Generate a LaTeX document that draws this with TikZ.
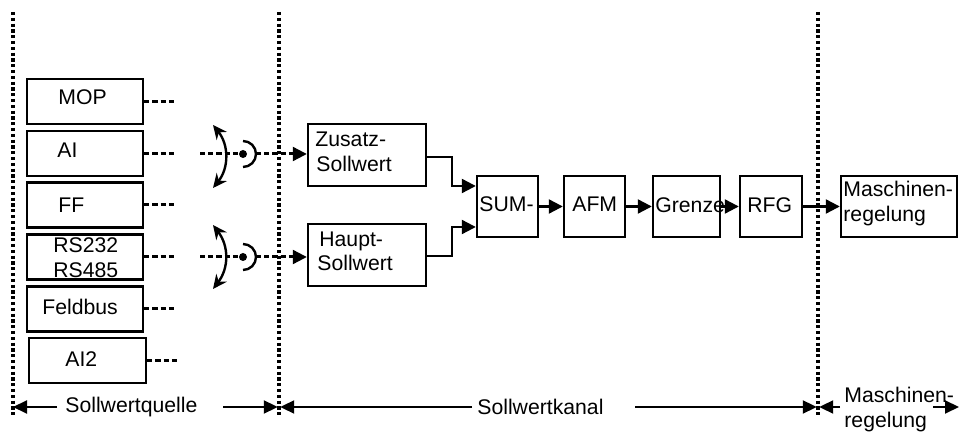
\documentclass[tikz,border=0pt]{standalone}
\usepackage{fontspec}
\setmainfont{Liberation Sans}
\usetikzlibrary{arrows.meta}
\begin{document}
\begin{tikzpicture}[x=0.5pt,y=-0.5pt,
  blk/.style={draw,line width=1.2pt,inner sep=0pt,minimum height=#1},
  blk/.default=22.5pt,
  txt/.style={anchor=base west,inner sep=0pt,font=\fontsize{10.6pt}{12pt}\selectfont},
  vdots/.style={line width=1.6pt,dash pattern=on 1.6pt off 1.3pt},
  hdash/.style={line width=1.5pt,dash pattern=on 2.6pt off 1.5pt},
  con/.style={line width=1.1pt,-{Triangle[length=7pt,width=7pt]}},
  dimarr/.style={line width=1pt,-{Triangle[length=7pt,width=6.5pt]}},
  sw/.style={line width=1.2pt,{Stealth[length=7pt,width=6.5pt]}-{Stealth[length=7pt,width=6.5pt]}}]
\useasboundingbox (0,0) rectangle (960,432);

% vertical dotted separators
\coordinate (s1t) at (13,12);  \coordinate (s1b) at (13,416);
\coordinate (s2t) at (279,12); \coordinate (s2b) at (279,416);
\coordinate (s3t) at (818,12); \coordinate (s3b) at (818,416);
\draw[vdots] (s1t) -- (s1b);
\draw[vdots] (s2t) -- (s2b);
\draw[vdots] (s3t) -- (s3b);

% source boxes
\node[blk,minimum width=58pt] (mop) at (85,101.5) {};
\node[blk,minimum width=58pt] (ai)  at (85,153.5) {};
\node[blk,minimum width=58pt] (ff)  at (85,205) {};
\node[blk,minimum width=58pt] (rs)  at (85,257) {};
\node[blk,minimum width=58pt] (fb)  at (85,309) {};
\node[blk,minimum width=58.5pt] (ai2) at (87.5,360.5) {};
\node[txt] (tmop) at (58,105) {MOP};
\node[txt] (tai)  at (57,158) {AI};
\node[txt] (tff)  at (58,213) {FF};
\node[txt] (trs1) at (53,253) {RS232};
\node[txt] (trs2) at (53,278) {RS485};
\node[txt] (tfb)  at (42,315) {Feldbus};
\node[txt] (tai2) at (65,367) {AI2};

% dashed stubs
\coordinate (emop) at (177,101.5);
\coordinate (eai)  at (177,153.5);
\coordinate (eff)  at (177,205);
\coordinate (ers)  at (177,257);
\coordinate (efb)  at (177,309);
\coordinate (eai2) at (179,360.5);
\draw[hdash] (mop.east) -- (emop);
\draw[hdash] (ai.east) -- (eai);
\draw[hdash] (ff.east) -- (eff);
\draw[hdash] (rs.east) -- (ers);
\draw[hdash] (fb.east) -- (efb);
\draw[hdash] (ai2.east) -- (eai2);

% main blocks
\node[blk=31pt,minimum width=59pt] (zus) at (367,155) {};
\node[blk=31pt,minimum width=59pt] (hau) at (367,255) {};
\node[txt] (tzus1) at (315,147) {Zusatz-};
\node[txt] (tzus2) at (316,172) {Sollwert};
\node[txt] (thau1) at (319,247) {Haupt-};
\node[txt] (thau2) at (317,271) {Sollwert};

\node[blk=30.5pt,minimum width=30.5pt] (sum) at (507.5,206.5) {};
\node[blk=30.5pt,minimum width=30.5pt] (afm) at (594.5,206.5) {};
\node[blk=30.5pt,minimum width=33.5pt] (gre) at (686.5,206.5) {};
\node[blk=30.5pt,minimum width=31pt] (rfg) at (771,206.5) {};
\node[blk=30.5pt,minimum width=58pt] (mas) at (899,206.5) {};
\node[txt] (tsum) at (479,212) {SUM-};
\node[txt] (tafm) at (572,212) {AFM};
\node[txt] (tgre) at (655,213) {Grenze};
\node[txt] (trfg) at (747,213) {RFG};
\node[txt] (tmas1) at (843,197) {Maschinen-};
\node[txt] (tmas2) at (843,222) {regelung};

% switches
\coordinate (sa0) at (200,154);
\coordinate (sa1) at (243,154);
\coordinate (sa2) at (256,154);
\coordinate (sa3) at (243,141);
\coordinate (ta1) at (213,125);
\coordinate (ta2) at (213,188);
\draw[hdash] (sa0) -- (sa1);
\fill (sa1) circle[radius=4];
\draw[line width=1.2pt] (sa3) arc[start angle=-90,end angle=90,radius=13];
\draw[hdash] (sa2) -- ([xshift=-6pt]zus.west |- sa2);
\draw[con] ([xshift=-7pt]zus.west |- sa2) -- (zus.west |- sa2);
\draw[sw] (ta1) .. controls (229,145) and (229,168) .. (ta2);

\coordinate (sb0) at (200,257);
\coordinate (sb1) at (243,257);
\coordinate (sb2) at (256,257);
\coordinate (sb3) at (243,244);
\coordinate (tb1) at (213,225);
\coordinate (tb2) at (213,289);
\draw[hdash] (sb0) -- (sb1);
\fill (sb1) circle[radius=4];
\draw[line width=1.2pt] (sb3) arc[start angle=-90,end angle=90,radius=13];
\draw[hdash] (sb2) -- ([xshift=-6pt]hau.west |- sb2);
\draw[con] ([xshift=-7pt]hau.west |- sb2) -- (hau.west |- sb2);
\draw[sw] (tb1) .. controls (229,246) and (229,268) .. (tb2);

% signal path
\draw[con] (zus.east |- 0,157) -| (452,186) -- (sum.west |- 0,186);
\draw[con] (hau.east |- 0,256) -| (452,227) -- (sum.west |- 0,227);
\draw[con] (sum) -- (afm);
\draw[con] (afm) -- (gre);
\draw[con] (gre) -- (rfg);
\draw[con] (rfg) -- (mas);

% dimension line
\coordinate (d1) at (57,407);
\coordinate (d2) at (223,407);
\coordinate (d3) at (472,407);
\coordinate (d4) at (635,407);
\coordinate (d5) at (840,407);
\coordinate (d6) at (933,407);
\coordinate (d7) at (959,407);
\draw[dimarr] (d1) -- (s1t |- d1);
\draw[dimarr] (d2) -- ([xshift=-0.6pt]s2t |- d2);
\draw[dimarr] (d3) -- ([xshift=0.6pt]s2t |- d3);
\draw[dimarr] (d4) -- ([xshift=-0.6pt]s3t |- d4);
\draw[dimarr] (d5) -- ([xshift=0.6pt]s3t |- d5);
\draw[dimarr] (d6) -- (d7);
\node[txt] (tq) at (65,413) {Sollwertquelle};
\node[txt] (tk) at (477,415) {Sollwertkanal};
\node[txt] (tm1) at (844,403) {Maschinen-};
\node[txt] (tm2) at (844,428) {regelung};
\end{tikzpicture}
\end{document}
